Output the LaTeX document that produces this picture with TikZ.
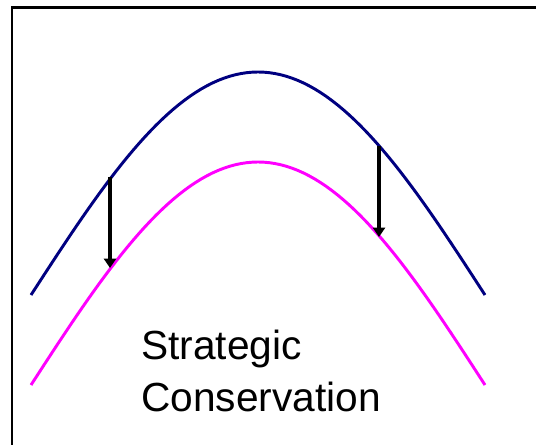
\documentclass[tikz,border=0pt]{standalone}
\usepackage{fontspec}
\setmainfont{Liberation Sans}
\usetikzlibrary{arrows.meta}

\definecolor{navyline}{RGB}{0,0,128}
\definecolor{pinkline}{RGB}{255,0,255}

\begin{document}
\begin{tikzpicture}[
  x=0.75pt,y=-0.75pt,
  curve/.style={line width=2.2pt,line join=round},
  drop/.style={-{Triangle[length=7pt,width=9pt]},line width=2.4pt,black},
  frame/.style={line width=2.2pt,black}
]
\useasboundingbox (0,0) rectangle (538,445);
% frame, open at right and bottom
\draw[frame] (12,445) -- (12,7.5) -- (536,7.5);
% the two arches
\draw[curve,navyline] plot[domain=-90:90,samples=81] ({258+\x/90*227},{295-223*cos(\x)});
\draw[curve,pinkline] plot[domain=-90:90,samples=81] ({258+\x/90*227},{385-223*cos(\x)});
% points on the arches
\coordinate (top1) at (110,177);
\coordinate (low1) at (110,268);
\coordinate (top2) at (379,146);
\coordinate (low2) at (379,237);
\draw[drop] (top1) -- (low1);
\draw[drop] (top2) -- (low2);
\node[anchor=base west,align=left,inner sep=0pt,font=\fontsize{30.5}{38.3}\selectfont] (label) at (141,411) {Strategic\\Conservation};
\end{tikzpicture}
\end{document}
